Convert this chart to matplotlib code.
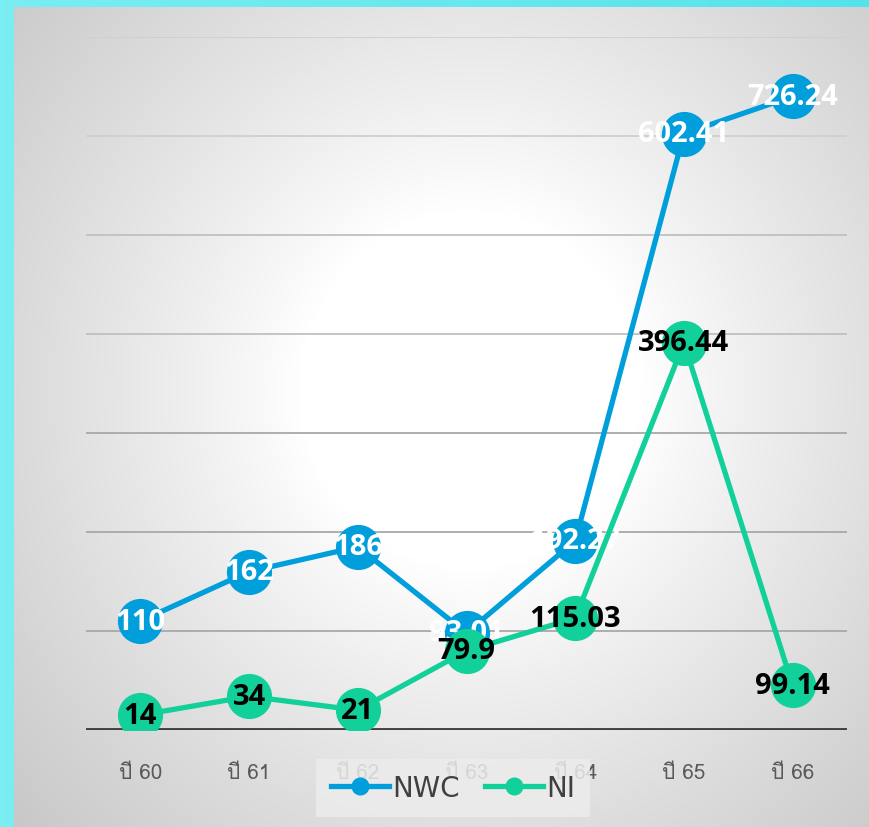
import numpy as np
import matplotlib
matplotlib.use("Agg")
import matplotlib.pyplot as plt
from matplotlib import font_manager as fm
from matplotlib.lines import Line2D

# ---------------- data ----------------
categories = ["ปี 60", "ปี 61", "ปี 62", "ปี 63", "ปี 64", "ปี 65", "ปี 66"]
nwc_values = [110, 160, 185, 98, 191, 602.41, 640]
nwc_labels = ["110", "162", "186", "93.01", "192.27", "602.41", "726.24"]
ni_values = [15, 34, 20, 80, 113, 391, 45]
ni_labels = ["14", "34", "21", "79.9", "115.03", "396.44", "99.14"]
series_names = ["NWC", "NI"]

# ---------------- fonts ----------------
def find_thai_font():
    from matplotlib.ft2font import FT2Font
    for f in fm.fontManager.ttflist:
        try:
            cm = FT2Font(f.fname).get_charmap()
            if 0x0E1B in cm and 0x0E35 in cm:
                return f.name
        except Exception:
            pass
    return None

thai = find_thai_font()
tick_family = ([thai] if thai else []) + ["DejaVu Sans"]

W, H = 869, 828
fig = plt.figure(figsize=(W / 100, H / 100), dpi=100)

# background: cyan frame + radial gray gradient panel
bg = fig.add_axes([0, 0, 1, 1])
bg.set_xlim(0, W)
bg.set_ylim(H, 0)
bg.axis("off")
xx = np.linspace(0, 1, 200)
cyan = np.zeros((1, 200, 3))
c0 = np.array([0x7a, 0xee, 0xf2]) / 255
c1 = np.array([0x55, 0xe3, 0xeb]) / 255
for i, t in enumerate(xx):
    cyan[0, i] = c0 * (1 - t) + c1 * t
bg.imshow(cyan, extent=[0, W, H, 0], aspect="auto", zorder=0)

yy, xg = np.mgrid[0:H - 8, 0:W - 14]
cx, cy = 470 - 14, 390 - 8
r = np.sqrt(((xg - cx) / 1.0) ** 2 + ((yy - cy) / 1.05) ** 2)
t = np.clip((r - 170) / 480, 0, 1) ** 0.9
lo, hi = 1.0, 0.77
val = hi * t + lo * (1 - t)
panel = np.dstack([val, val, val])
bg.imshow(panel, extent=[14, W, H, 8], aspect="auto", zorder=1)

# ---------------- chart ----------------
ax = fig.add_axes([86 / W, (H - 731) / H, (847 - 86) / W, (731 - 38) / H])
ax.patch.set_alpha(0)
x = np.arange(len(categories))
ax.set_xlim(-0.5, len(categories) - 0.5)
ax.set_ylim(0, 700)
for s in ax.spines.values():
    s.set_visible(False)
ax.set_yticks([])
for g in range(100, 701, 100):
    col = "#a8a8a8" if g <= 300 else ("#c0c0c0" if g <= 500 else "#cfcfcf")
    ax.axhline(g, color=col, lw=1.3, zorder=1)
ax.axhline(0, color="#404040", lw=2.8, zorder=2)

ax.set_xticks(x)
ax.set_xticklabels(categories, fontsize=15, color="#595959", family=tick_family)
ax.tick_params(axis="x", length=0, pad=24)

blue = "#009fdb"
green = "#12d09a"
lab_font = ["Open Sans", "DejaVu Sans"]

ax.plot(x, nwc_values, color=blue, lw=3.8, marker="o", ms=31.5, zorder=3,
        solid_capstyle="round")
for xi, v, s in zip(x, nwc_values, nwc_labels):
    ax.text(xi, v, s, ha="center", va="center", color="white", fontsize=21,
            fontweight="bold", family=lab_font, zorder=4)
ax.plot(x, ni_values, color=green, lw=3.8, marker="o", ms=31.5, zorder=5,
        solid_capstyle="round")
for xi, v, s in zip(x, ni_values, ni_labels):
    ax.text(xi, v, s, ha="center", va="center", color="black", fontsize=21,
            fontweight="bold", family=lab_font, zorder=6)

# legend
handles = [Line2D([0], [0], color=blue, lw=3.8, marker="o", ms=12),
           Line2D([0], [0], color=green, lw=3.8, marker="o", ms=12)]
leg = fig.legend(handles, series_names, loc="center",
                 bbox_to_anchor=(453 / W, (H - 789) / H), ncol=2,
                 frameon=True, fontsize=20, handlelength=2.1,
                 handletextpad=0.1, columnspacing=0.9, borderpad=0.55,
                 fancybox=False)
leg.get_frame().set_facecolor("#ececec")
leg.get_frame().set_alpha(0.85)
leg.get_frame().set_linewidth(0)
for tx in leg.get_texts():
    tx.set_color("#404040")

fig.savefig("out.png", dpi=100)
